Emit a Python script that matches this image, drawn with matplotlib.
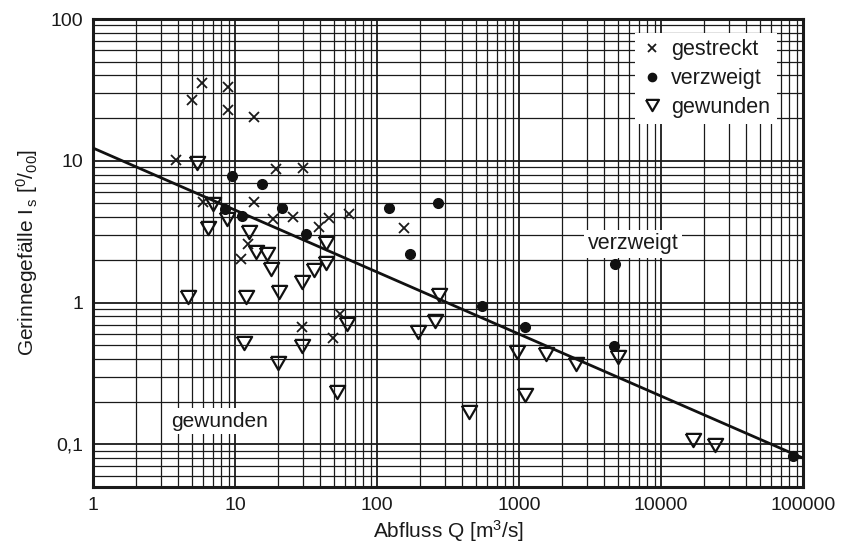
import matplotlib
matplotlib.use("Agg")
import matplotlib.pyplot as plt
import numpy as np
from matplotlib.ticker import FixedLocator, FixedFormatter, NullFormatter, LogLocator

plt.rcParams['font.family'] = ['Liberation Sans', 'DejaVu Sans']
plt.rcParams['mathtext.fontset'] = 'custom'
plt.rcParams['mathtext.rm'] = 'Liberation Sans'
plt.rcParams['mathtext.it'] = 'Liberation Sans'

# ---- data ----
gestreckt_Q = [5.89, 4.98, 8.89, 8.97, 13.5, 3.84, 19.4, 30.0, 5.98, 13.6,
               25.6, 18.6, 45.7, 63.2, 39.0, 12.4, 11.1, 155, 54.9, 29.5, 49.0]
gestreckt_I = [35.2, 26.8, 33.0, 22.8, 20.5, 10.2, 8.71, 8.85, 5.15, 5.15,
               4.03, 3.89, 3.93, 4.20, 3.39, 2.58, 2.04, 3.34, 0.824, 0.676, 0.565]

verzweigt_Q = [9.55, 15.6, 8.44, 11.2, 21.4, 31.4, 122, 268, 171, 549, 1102,
               4744, 4690, 85400]
verzweigt_I = [7.81, 6.86, 4.57, 4.11, 4.65, 3.03, 4.65, 5.01, 2.20, 0.946, 0.676,
               1.86, 0.494, 0.0828]

gewunden_Q = [5.37, 7.03, 8.74, 6.43, 12.5, 14.1, 16.8, 18.0, 20.4, 29.5, 35.9,
              43.6, 43.6, 4.67, 12.0, 11.6, 29.5, 20.2, 61.5, 52.0, 195, 258,
              273, 446, 963, 1102, 1545, 2518, 5003, 16870, 23990]
gewunden_I = [9.70, 4.94, 3.90, 3.36, 3.15, 2.29, 2.21, 1.73, 1.19, 1.40, 1.70,
              1.91, 2.65, 1.10, 1.10, 0.521, 0.494, 0.373, 0.706, 0.235, 0.623, 0.745,
              1.13, 0.170, 0.445, 0.223, 0.436, 0.368, 0.411, 0.107, 0.099]

trend_Q = [1, 100000]
trend_I = [12.3, 0.08]

x_ticks = [1, 10, 100, 1000, 10000, 100000]
x_ticklabels = ["1", "10", "100", "1000", "10000", "100000"]
y_ticks = [0.1, 1, 10, 100]
y_ticklabels = ["0,1", "1", "10", "100"]

# ---- figure ----
fig = plt.figure(figsize=(8.42, 5.5), dpi=100)
ax = fig.add_axes([93/842, 1-487/550, 710/842, 468/550])
ax.set_xscale('log')
ax.set_yscale('log')
ax.set_xlim(1, 100000)
ax.set_ylim(0.05, 100)

ax.xaxis.set_major_locator(FixedLocator(x_ticks))
ax.xaxis.set_major_formatter(FixedFormatter(x_ticklabels))
ax.yaxis.set_major_locator(FixedLocator(y_ticks))
ax.yaxis.set_major_formatter(FixedFormatter(y_ticklabels))
ax.xaxis.set_minor_locator(LogLocator(base=10, subs=np.arange(2, 10), numticks=20))
ax.yaxis.set_minor_locator(LogLocator(base=10, subs=np.arange(2, 10), numticks=20))
ax.xaxis.set_minor_formatter(NullFormatter())
ax.yaxis.set_minor_formatter(NullFormatter())

ax.grid(True, which='major', color='#1a1a1a', linewidth=1.3, zorder=0)
ax.grid(True, which='minor', color='#1a1a1a', linewidth=0.9, zorder=0)
ax.set_axisbelow(True)
ax.tick_params(which='both', length=0, labelsize=14, pad=7, colors='#1a1a1a')

for s in ax.spines.values():
    s.set_linewidth(2.2)
    s.set_color('#1a1a1a')

ax.plot(trend_Q, trend_I, color='#111111', linewidth=2.0, zorder=3)

tri = [(-1, 0.866), (1, 0.866), (0, -0.866), (-1, 0.866)]
ax.plot(gestreckt_Q, gestreckt_I, linestyle='none', marker='x', markersize=7.5,
        markeredgewidth=1.3, color='#1a1a1a', label='gestreckt', zorder=4)
ax.plot(verzweigt_Q, verzweigt_I, linestyle='none', marker='o', markersize=7,
        color='#111111', label='verzweigt', zorder=4)
ax.plot(gewunden_Q, gewunden_I, linestyle='none', marker=tri, markersize=11,
        markerfacecolor='none', markeredgecolor='#111111', markeredgewidth=1.6,
        label='gewunden', zorder=4)

ax.text(6350, 2.59, 'verzweigt', fontsize=15.5, ha='center', va='center', zorder=5,
        color='#1a1a1a',
        bbox=dict(facecolor='white', edgecolor='none', pad=2.5))
ax.text(7.84, 0.146, 'gewunden', fontsize=15, ha='center', va='center', zorder=5,
        color='#1a1a1a',
        bbox=dict(facecolor='white', edgecolor='none', pad=2.5))

leg = ax.legend(loc='upper right', bbox_to_anchor=(0.963, 0.970), fontsize=15.5,
                frameon=True, fancybox=False, framealpha=1, borderaxespad=0,
                handlelength=1.0, handletextpad=0.4, borderpad=0.3, labelspacing=0.36,
                markerscale=0.85)
leg.get_frame().set_edgecolor('none')
leg.get_frame().set_facecolor('white')
leg.set_zorder(6)
for t in leg.get_texts():
    t.set_color('#1a1a1a')

ax.set_xlabel('Abfluss Q [m$^3$/s]', fontsize=15, color='#1a1a1a', labelpad=3)
ax.set_ylabel(r'Gerinnegefälle I$_{\,\rm s}$ [$^{0}$/$_{00}$]', fontsize=15,
              color='#1a1a1a', labelpad=8)

fig.savefig('out.png', dpi=100, facecolor='white')
